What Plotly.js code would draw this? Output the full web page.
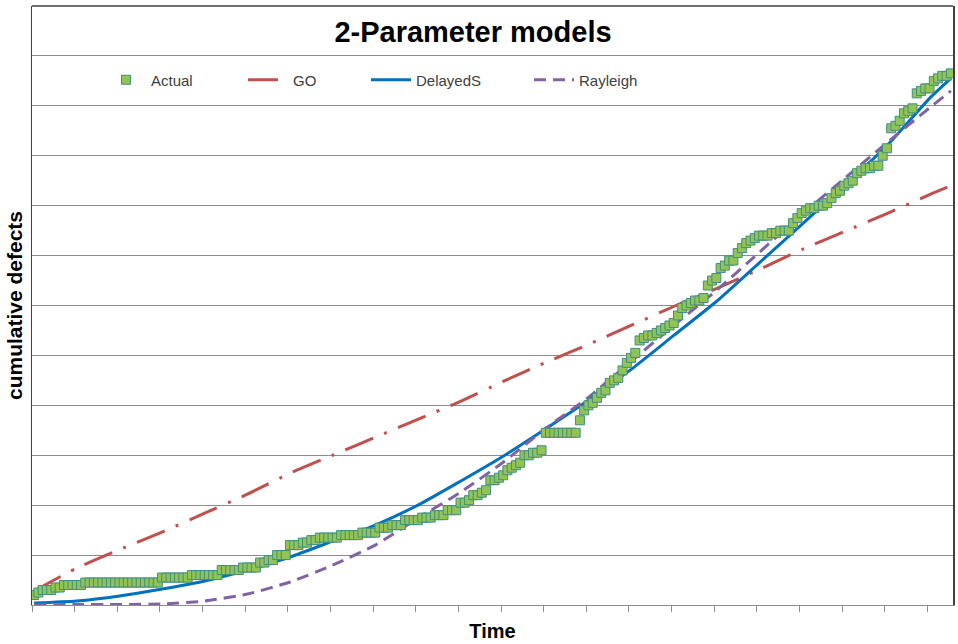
<!DOCTYPE html>
<html>
<head>
<meta charset="utf-8">
<script src="https://cdn.plot.ly/plotly-3.0.1.min.js"></script>
<style>html,body{margin:0;padding:0;background:#fff;}#chart{width:958px;height:644px;}</style>
</head>
<body>
<div id="chart"></div>
<script>
// Actual cumulative defects, one value per time step (216 steps)
const actual = [
 4,5,6,6,6,7,7,8,8,8, 8,8,9,9,9,9,9,9,9,9,
 9,9,9,9,9,9,9,9,9,9, 11,11,11,11,11,11,11,12,12,12,
 12,12,12,12,14,14,14,14,14,15, 15,15,15,17,17,18,18,20,20,20,
 24,24,24,25,25,26,26,27,27,27, 27,27,28,28,28,28,28,29,29,29,
 29,31,31,31,32,32,32,34,34,34, 34,35,35,35,36,36,36,38,38,38,
 41,41,42,44,44,45,46,50,50,51, 52,54,55,56,57,60,60,61,61,62,
 69,69,69,69,69,69,69,69,74,78, 80,81,83,85,86,89,90,91,94,97,
 99,101,106,107,108,108,109,110,111,112, 113,116,119,120,121,122,122,123,128,130,
 131,135,136,138,138,141,143,145,146,147, 148,148,148,149,149,150,150,150,153,155,
 157,158,159,159,160,160,161,163,165,166, 168,169,170,173,174,175,175,176,176,180,
 183,191,192,194,197,198,199,205,206,207, 207,210,211,212,212,213
];
const time = actual.map((_, i) => i + 1);

// Model curves read at sampled time steps
const modelTime = [1,11,21,31,41,51,61,71,81,91,101,111,121,131,141,151,161,171,181,191,201,211,216];
const goModel = [5.6,14.8,22.2,29.2,36.8,44.4,52.8,60,67.2,74.4,81.6,89.6,97.2,104.4,112,119.6,126.8,134.4,142.4,149.6,156.8,164.4,168];
const delayedS = [0.8,1.6,3.6,6.4,9.6,14,19.2,25.6,32,40,49.6,59.6,70.6,82,94.4,108,121.6,137,152.4,168,184,203,211];
const rayleigh = [0,0.2,0.2,0.4,1.6,4.4,9.2,16,24,34.8,45.2,57.2,70.8,83.2,97.6,112,126,141.2,156.4,170.8,185.2,199.2,206];

const seriesNames = ['Actual','GO','DelayedS','Rayleigh'];
const tickTimes = [0.5,10.5,20.5,30.5,40.5,50.5,60.5,70.5,80.5,90.5,100.5,110.5,120.5,130.5,140.5,150.5,160.5,170.5,180.5,190.5,200.5,210.5];

const FONT = 'Liberation Sans, Arial, sans-serif';

const traces = [
  {x: modelTime, y: goModel, name: seriesNames[1], type: 'scatter', mode: 'lines', legend: 'legend2',
   line: {color: '#C0504D', width: 3, dash: '30px,12px,3px,12px', shape: 'spline', smoothing: 0.6}},
  {x: modelTime, y: delayedS, name: seriesNames[2], type: 'scatter', mode: 'lines', legend: 'legend3',
   line: {color: '#0070C0', width: 3, shape: 'spline', smoothing: 0.6}},
  {x: modelTime, y: rayleigh, name: seriesNames[3], type: 'scatter', mode: 'lines', legend: 'legend4',
   line: {color: '#8064A2', width: 3, dash: '12px,7px', shape: 'spline', smoothing: 0.6}},
  {x: time, y: actual, name: seriesNames[0], type: 'scatter', mode: 'markers', legend: 'legend',
   marker: {symbol: 'square', size: 9, color: '#92C353', line: {color: '#3F8F86', width: 1}}}
];

const W = 921; // plot width in px
const legFont = {family: FONT, size: 15, color: '#404040'};
const legBase = {orientation: 'h', xref: 'paper', yref: 'paper', yanchor: 'middle', xanchor: 'left',
  y: (605 - 80) / 599, bgcolor: 'rgba(0,0,0,0)', font: legFont, borderwidth: 0, itemwidth: 40};

const layout = {
  width: 958, height: 644,
  margin: {l: 32, r: 5, t: 6, b: 39},
  paper_bgcolor: '#ffffff', plot_bgcolor: '#ffffff',
  font: {family: FONT, color: '#000'},
  title: {text: '2-Parameter models', x: 473/958, xref: 'container', xanchor: 'center',
          y: 1 - 32/644, yref: 'container', yanchor: 'middle',
          font: {family: FONT, size: 29, weight: 'bold', color: '#000'}},
  xaxis: {range: [0.5, 216.5], showgrid: false, zeroline: false, showticklabels: false,
          tickmode: 'array', tickvals: tickTimes, ticks: 'outside', ticklen: 6, tickcolor: '#8c8c8c', tickwidth: 1,
          showline: true, linecolor: '#8c8c8c', linewidth: 1,
          title: {text: 'Time', standoff: 12, font: {family: FONT, size: 20, weight: 'bold', color: '#000'}}},
  yaxis: {range: [0, 240], dtick: 20, tick0: 0, showgrid: true, gridcolor: '#8c8c8c', gridwidth: 1,
          zeroline: false, showticklabels: false, ticks: '',
          showline: true, linecolor: '#404040', linewidth: 1.5, mirror: true,
          title: {text: 'cumulative defects', standoff: 2, font: {family: FONT, size: 21, weight: 'bold', color: '#000'}}},
  shapes: [{type: 'line', xref: 'paper', yref: 'paper', x0: 0, x1: 1, y0: 1, y1: 1, line: {color: '#404040', width: 1.5}}],
  legend: Object.assign({}, legBase, {x: (101 - 32) / W}),
  legend2: Object.assign({}, legBase, {x: (243 - 32) / W}),
  legend3: Object.assign({}, legBase, {x: (366 - 32) / W}),
  legend4: Object.assign({}, legBase, {x: (529 - 32) / W}),
  showlegend: true
};

Plotly.newPlot('chart', traces, layout, {displayModeBar: false, staticPlot: true});
</script>
</body>
</html>
